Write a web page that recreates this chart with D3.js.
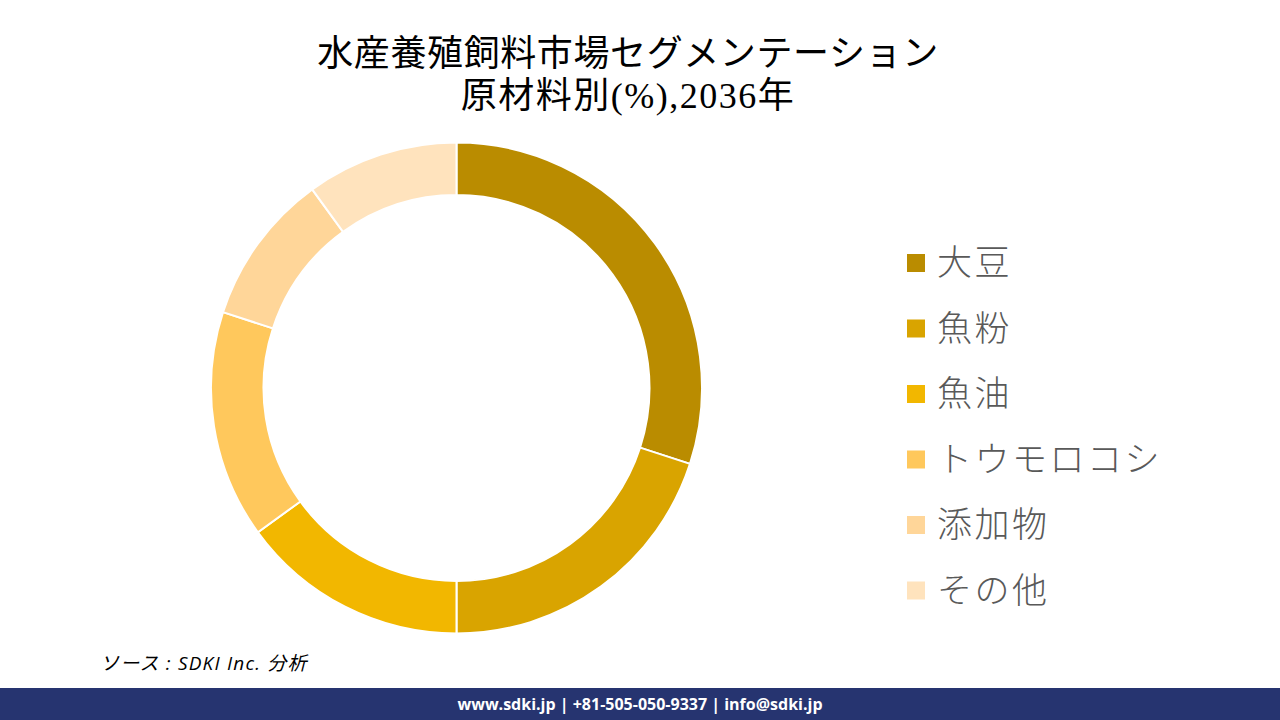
<!DOCTYPE html>
<html>
<head>
<meta charset="utf-8">
<script src="https://cdn.jsdelivr.net/npm/d3@7"></script>
<style>
  body { margin: 0; background: #fff; }
  svg { display: block; }
</style>
</head>
<body>
<svg id="chart"></svg>
<script>
var width = 1280;
var height = 720;

// data
var categories = ["大豆", "魚粉", "魚油", "トウモロコシ", "添加物", "その他"];
var shares = [30, 20, 15, 15, 10, 10];
var colors = ["#BA8C00", "#D9A400", "#F2B700", "#FFC85C", "#FFD699", "#FFE3BD"];
var titleLines = ["水産養殖飼料市場セグメンテーション", "原材料別(%),2036年"];

var svg = d3.select("#chart").attr("width", width).attr("height", height);

// title
svg.append("g").selectAll("text")
    .data(titleLines)
    .enter()
    .append("text")
    .attr("x", 628)
    .attr("y", function(d, i) { return 66 + i * 42; })
    .attr("text-anchor", "middle")
    .style("font-family", "'Liberation Serif', 'Noto Sans CJK JP', serif")
    .style("font-size", "36px")
    .style("letter-spacing", function(d, i) { return i == 0 ? "0.6px" : "1.5px"; })
    .style("fill", "#000")
    .text(function(d) { return d; });

// donut
var color = d3.scaleOrdinal().domain(categories).range(colors);
var pie = d3.pie().sort(null).value(function(d) { return d.value; });
var arc = d3.arc().innerRadius(193).outerRadius(245.5);
var data = categories.map(function(c, i) { return {name: c, value: shares[i]}; });

var donut = svg.append("g").attr("transform", "translate(456.5,388)");
donut.selectAll("path")
    .data(pie(data))
    .enter()
    .append("path")
    .attr("d", arc)
    .attr("fill", function(d) { return color(d.data.name); })
    .attr("stroke", "#fff")
    .attr("stroke-width", 2);

// legend
var legend = svg.append("g").attr("class", "legend")
    .selectAll("g")
    .data(categories)
    .enter()
    .append("g")
    .attr("transform", function(d, i) { return "translate(907," + (263 + i * 65.5) + ")"; });

legend.append("rect")
    .attr("x", 0).attr("y", -9)
    .attr("width", 18).attr("height", 18)
    .attr("fill", function(d) { return color(d); });

legend.append("text")
    .attr("x", 30)
    .attr("y", 12)
    .style("font-family", "'Noto Sans CJK JP', sans-serif")
    .style("font-weight", 300)
    .style("font-size", "35px")
    .style("letter-spacing", "2.5px")
    .style("fill", "#595959")
    .text(function(d) { return d; });

// source
svg.append("text")
    .attr("x", 100)
    .attr("y", 670)
    .style("font-family", "'Open Sans', 'Noto Sans CJK JP', sans-serif")
    .style("font-style", "italic")
    .style("font-size", "19px")
    .style("letter-spacing", "1.2px")
    .style("fill", "#000")
    .text("ソース : SDKI Inc. 分析");

// footer
svg.append("rect")
    .attr("x", 0).attr("y", 688)
    .attr("width", width).attr("height", 32)
    .attr("fill", "#263470");

svg.append("text")
    .attr("x", 640)
    .attr("y", 710)
    .attr("text-anchor", "middle")
    .style("font-family", "'Open Sans', sans-serif")
    .style("font-weight", 700)
    .style("font-size", "16px")
    .style("fill", "#fff")
    .text("www.sdki.jp | +81-505-050-9337 | info@sdki.jp");
</script>
</body>
</html>
